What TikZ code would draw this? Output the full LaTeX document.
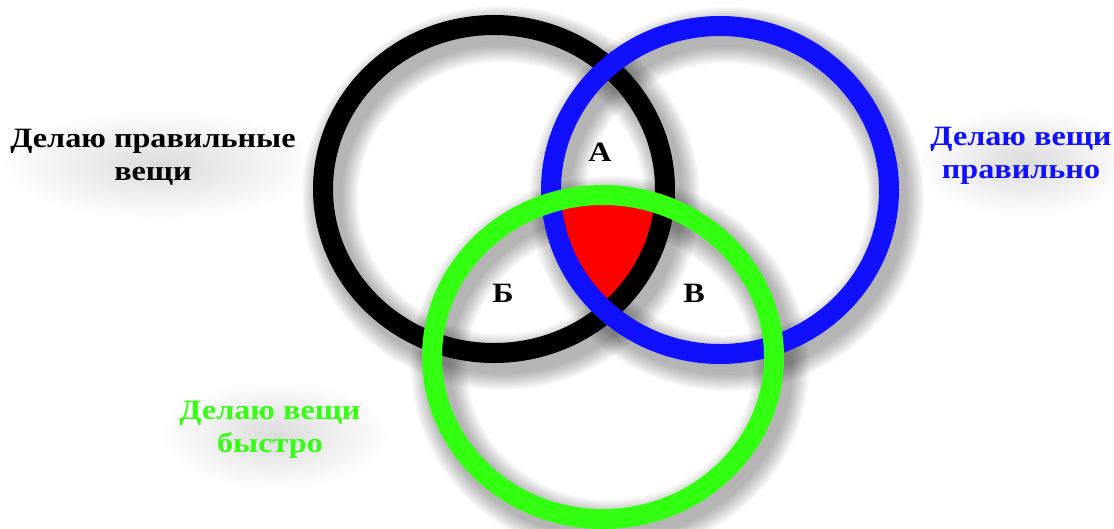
\documentclass[tikz,border=0pt]{standalone}
\usepackage{fontspec}
\setmainfont{Liberation Serif}
\newfontfamily\lblfont[FakeStretch=1.15]{Liberation Serif}
\definecolor{vblue}{RGB}{16,16,255}
\definecolor{vgreen}{RGB}{51,255,17}
\definecolor{vred}{RGB}{255,0,0}
\begin{document}
\begin{tikzpicture}[x=1pt,y=-1pt,
  ring/.style={line width=20pt},
  lbl/.style={font=\lblfont\fontsize{28}{33}\selectfont\bfseries, align=center, inner sep=0pt},
  letter/.style={font=\lblfont\fontsize{28}{30}\selectfont\bfseries, inner sep=0pt},
  glow/.style={inner color=black!14, outer color=white, draw=none},
]
\useasboundingbox (0,0) rectangle (1114,528);
\fill[white] (0,0) rectangle (1114,528);
% circle centres
\coordinate (cb) at (494,189);
\coordinate (cu) at (720,190);
\coordinate (cg) at (603,357);
% soft glows behind labels
\shade[glow] (160,165) ellipse [x radius=160, y radius=55];
\shade[glow] (1025,162) ellipse [x radius=110, y radius=55];
\shade[glow] (275,435) ellipse [x radius=115, y radius=55];
% soft shadows
\foreach \c/\rx/\ry in {cb/171/164, cu/169/164, cg/171/162}{
  \foreach \k in {1,...,9}{
    \draw[black, opacity=0.035, line width={20+4*\k}]
      ([shift={(7,9)}]\c) ellipse [x radius=\rx, y radius=\ry];
  }
}
% red triple intersection
\begin{scope}
  \clip (cb) ellipse [x radius=171, y radius=164];
  \clip (cu) ellipse [x radius=169, y radius=164];
  \fill[vred] (cg) ellipse [x radius=171, y radius=162];
\end{scope}
% rings
\draw[ring, black] (cb) ellipse [x radius=171, y radius=164];
\draw[ring, vblue] (cu) ellipse [x radius=169, y radius=164];
\draw[ring, vgreen] (cg) ellipse [x radius=171, y radius=162];
% labels
\node[lbl, black] (lb) at (153,157) {Делаю правильные\\вещи};
\node[lbl, vblue] (lu) at (1021,156) {Делаю вещи\\правильно};
\node[lbl, vgreen] (lg) at (270,430) {Делаю вещи\\быстро};
\node[letter] (A) at (600,152) {А};
\node[letter] (B) at (503,293) {Б};
\node[letter] (V) at (694,293) {В};
\end{tikzpicture}
\end{document}
